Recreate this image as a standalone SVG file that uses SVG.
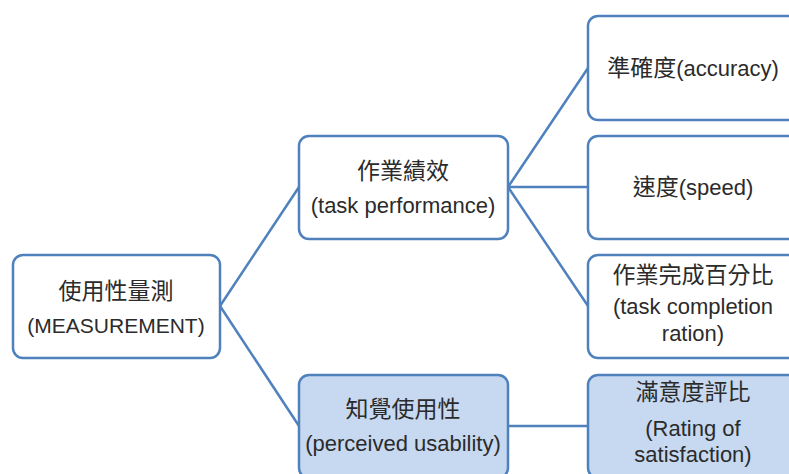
<svg xmlns="http://www.w3.org/2000/svg" width="789" height="474" viewBox="0 0 789 474">
<style>
.box{fill:#ffffff;stroke:#4f81bd;stroke-width:2.5}
.alt{fill:#c6d9f1}
.t{font-family:"Liberation Sans","Noto Sans CJK TC",sans-serif;font-size:22px;fill:#2b2b2b;text-anchor:middle}
.c{font-size:23px}
.edge{stroke:#4f81bd;stroke-width:2.5;fill:none}
</style>
<rect width="789" height="474" fill="#ffffff"/>
<g id="connectors">
<line class="edge" x1="220" y1="306" x2="299" y2="187"/>
<line class="edge" x1="220" y1="306" x2="299" y2="426"/>
<line class="edge" x1="508" y1="187" x2="588" y2="68"/>
<line class="edge" x1="508" y1="187" x2="588" y2="187"/>
<line class="edge" x1="508" y1="187" x2="588" y2="306"/>
<line class="edge" x1="508" y1="426" x2="588" y2="426"/>
</g>
<g id="measurement">
<rect class="box" x="13" y="255" width="207" height="103" rx="10"/>
<text class="t c" x="116" y="299">使用性量測</text>
<text class="t" x="116" y="333" style="font-size:21px">(MEASUREMENT)</text>
</g>
<g id="task-performance">
<rect class="box" x="299" y="136" width="209" height="103" rx="10"/>
<text class="t c" x="403" y="179">作業績效</text>
<text class="t" x="403" y="213">(task performance)</text>
</g>
<g id="perceived-usability">
<rect class="box alt" x="299" y="375" width="209" height="103" rx="10"/>
<text class="t c" x="403" y="417">知覺使用性</text>
<text class="t" x="403" y="451">(perceived usability)</text>
</g>
<g id="accuracy">
<rect class="box" x="588" y="16" width="210" height="104" rx="10"/>
<text class="t" x="693" y="76"><tspan class="c">準確度</tspan>(accuracy)</text>
</g>
<g id="speed">
<rect class="box" x="588" y="136" width="210" height="103" rx="10"/>
<text class="t" x="693" y="195"><tspan class="c">速度</tspan>(speed)</text>
</g>
<g id="task-completion">
<rect class="box" x="588" y="255" width="210" height="103" rx="10"/>
<text class="t c" x="693" y="283">作業完成百分比</text>
<text class="t" x="693" y="314">(task completion</text>
<text class="t" x="693" y="341">ration)</text>
</g>
<g id="rating">
<rect class="box alt" x="588" y="375" width="210" height="103" rx="10"/>
<text class="t c" x="693" y="400">滿意度評比</text>
<text class="t" x="693" y="436">(Rating of</text>
<text class="t" x="693" y="462">satisfaction)</text>
</g>
</svg>
